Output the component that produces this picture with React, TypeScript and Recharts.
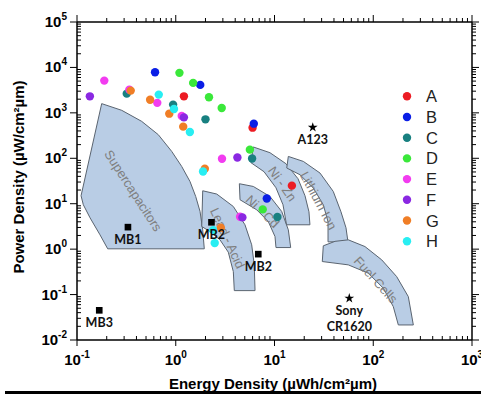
import React from 'react'
import { ScatterChart, Scatter, XAxis, YAxis, Symbols } from 'recharts'

// scatter series, energy density (x) vs power density (y)
const categories = ['A', 'B', 'C', 'D', 'E', 'F', 'G', 'H']
const colors = ['#ec1c24', '#0a1ee6', '#188080', '#3ae83a', '#f23cf0', '#8a28e2', '#f07e26', '#28eef2']

const seriesA = [{ x: 1.21, y: 2310 }, { x: 6.0, y: 472 }, { x: 15.0, y: 25 }]
const seriesB = [{ x: 0.617, y: 7820 }, { x: 1.77, y: 4130 }, { x: 6.17, y: 578 }, { x: 8.36, y: 13.0 }]
const seriesC = [{ x: 0.319, y: 2650 }, { x: 0.94, y: 1520 }, { x: 2.0, y: 720 }, { x: 5.93, y: 99 }, { x: 10.7, y: 5.1 }]
const seriesD = [{ x: 1.09, y: 7590 }, { x: 1.5, y: 4570 }, { x: 2.17, y: 2200 }, { x: 2.92, y: 1280 }, { x: 5.63, y: 155 }, { x: 7.6, y: 7.5 }]
const seriesE = [{ x: 0.189, y: 5130 }, { x: 0.339, y: 3250 }, { x: 0.65, y: 1660 }, { x: 1.15, y: 855 }, { x: 2.94, y: 98 }, { x: 4.48, y: 5.15 }]
const seriesF = [{ x: 0.135, y: 2310 }, { x: 1.21, y: 796 }, { x: 4.21, y: 104 }, { x: 4.73, y: 5.0 }]
const seriesG = [{ x: 0.35, y: 3090 }, { x: 0.55, y: 1950 }, { x: 0.86, y: 960 }, { x: 1.19, y: 497 }, { x: 1.97, y: 59 }, { x: 2.86, y: 2.95 }]
const seriesH = [{ x: 0.673, y: 2520 }, { x: 0.96, y: 1220 }, { x: 1.39, y: 379 }, { x: 1.89, y: 51 }, { x: 2.39, y: 2.62 }, { x: 2.48, y: 1.36 }]
const seriesList = [seriesA, seriesB, seriesC, seriesD, seriesE, seriesF, seriesG, seriesH]

// black markers
const squares = [
    { label: ['MB1'], x: 0.328, y: 3.05 },
    { label: ['MB2'], x: 2.3, y: 3.9 },
    { label: ['MB2'], x: 6.85, y: 0.776 },
    { label: ['MB3'], x: 0.168, y: 0.045 },
]
const stars = [
    { label: ['A123'], x: 24.4, y: 480 },
    { label: ['Sony', 'CR1620'], x: 57.2, y: 0.083 },
]

// technology regions, outlines as [log10 energy, log10 power]
const supercapacitors = [[-0.75, 3.203], [-0.547, 3.056], [-0.345, 2.813], [-0.177, 2.52], [-0.041, 2.152], [0.06, 1.821], [0.144, 1.49], [0.202, 1.16], [0.246, 0.829], [0.273, 0.425], [0.289, 0.007], [-0.689, 0.007], [-0.767, 0.315], [-0.868, 0.69], [-0.936, 0.977], [-0.959, 1.175], [-0.75, 3.203]]
const leadAcid = [[0.273, 1.285], [0.415, 1.213], [0.583, 0.939], [0.701, 0.536], [0.769, 0.095], [0.795, -0.346], [0.803, -0.913], [0.593, -0.913], [0.583, -0.494], [0.532, -0.066], [0.448, 0.205], [0.347, 0.388], [0.263, 0.498], [0.273, 1.285]]
const niCd = [[0.644, 1.44], [0.785, 1.38], [0.954, 1.16], [1.073, 0.829], [1.14, 0.425], [1.164, 0.035], [1.015, 0.035], [1.005, 0.278], [0.937, 0.608], [0.82, 0.866], [0.651, 1.087], [0.644, 1.44]]
const niZn = [[0.785, 2.249], [0.954, 2.123], [1.116, 1.881], [1.238, 1.55], [1.309, 1.175], [1.349, 0.822], [1.359, 0.536], [1.122, 0.536], [1.086, 0.977], [1.015, 1.351], [0.894, 1.704], [0.762, 1.903], [0.785, 2.249]]
const lithiumIon = [[1.14, 2.041], [1.292, 1.931], [1.461, 1.675], [1.595, 1.27], [1.673, 0.822], [1.724, 0.47], [1.744, 0.161], [1.542, 0.161], [1.542, 0.602], [1.494, 0.977], [1.393, 1.345], [1.258, 1.638], [1.124, 1.786], [1.14, 2.041]]
const fuelCells = [[1.494, 0.073], [1.613, 0.172], [1.747, 0.205], [1.916, 0.057], [2.086, -0.236], [2.237, -0.604], [2.355, -1.045], [2.406, -1.669], [2.254, -1.669], [2.203, -1.265], [2.102, -0.86], [1.95, -0.529], [1.747, -0.346], [1.484, -0.273], [1.494, 0.073]]
const regions = [supercapacitors, leadAcid, niCd, niZn, lithiumIon, fuelCells]

const regionLabels = [
    { text: 'Supercapacitors', x: 0.371, y: 19.3 },
    { text: 'Lead - Acid', x: 3.34, y: 1.75 },
    { text: 'Ni - Cd', x: 7.55, y: 6.75 },
    { text: 'Ni - Zn', x: 12.05, y: 27.2 },
    { text: 'Lithium Ion', x: 27.8, y: 11.7 },
    { text: 'Fuel Cells', x: 106, y: 0.21 },
]
const labelAngle: Record<string, number> = {
    'Supercapacitors': 57, 'Lead - Acid': 65, 'Ni - Cd': 44, 'Ni - Zn': 55, 'Lithium Ion': 62, 'Fuel Cells': 48,
}

const xDecades = [0.1, 1, 10, 100]
const yDecades = [0.01, 0.1, 1, 10, 100, 1000, 10000]
const minorSteps = [1, 2, 3, 4, 5, 6, 7, 8, 9]
const xTicks = [...xDecades.flatMap((d) => minorSteps.map((k) => k * d)), 1000]
const yTicks = [...yDecades.flatMap((d) => minorSteps.map((k) => k * d)), 100000]

const isDecade = (v: number) => Math.abs(Math.log10(v) - Math.round(Math.log10(v))) < 1e-6
const tickFont = { fontFamily: '"Liberation Sans", Arial, sans-serif', fontWeight: 700, fontSize: 15, fill: '#000' }

function AxisTick(props: any) {
    const { x, y, payload, side } = props
    const v = payload.value
    const major = isDecade(v)
    const e = Math.round(Math.log10(v))
    if (side === 'bottom') {
        return (
            <g>
                <line x1={x} x2={x} y1={y} y2={major ? y + 6 : y - 4} stroke="#000" />
                {major && (
                    <text x={x} y={y + 25} textAnchor="middle" style={tickFont}>
                        10<tspan dy={-7} fontSize={10}>{e}</tspan>
                    </text>
                )}
            </g>
        )
    }
    if (side === 'left') {
        return (
            <g>
                <line x1={x} x2={major ? x - 7 : x + 4} y1={y} y2={y} stroke="#000" />
                {major && (
                    <text x={x - 10} y={y + 5} textAnchor="end" style={tickFont}>
                        10<tspan dy={-7} fontSize={10}>{e}</tspan>
                    </text>
                )}
            </g>
        )
    }
    if (side === 'top') {
        return <line x1={x} x2={x} y1={y} y2={y - (major ? 7 : 4)} stroke="#000" />
    }
    return <line x1={x} x2={x + (major ? 7 : 4)} y1={y} y2={y} stroke="#000" />
}

const axisLine = { stroke: '#000', strokeWidth: 1.5 }
const noShape = () => <g />

function RegionText(props: any) {
    const { cx, cy, payload } = props
    const a = labelAngle[payload.text] ?? 0
    return (
        <text x={cx} y={cy} transform={`rotate(${a} ${cx} ${cy})`} textAnchor="middle" dominantBaseline="central"
            style={{ fontFamily: '"Liberation Sans", Arial, sans-serif', fontSize: 13, fill: '#7f7f7f' }}>
            {payload.text}
        </text>
    )
}

function Marker(props: any) {
    const { cx, cy, payload, kind } = props
    return (
        <g>
            <Symbols cx={cx} cy={cy} type={kind} size={kind === 'star' ? 30 : 44} fill="#000" />
            {payload.label.map((t: string, i: number) => (
                <text key={i} x={cx} y={cy + 16.5 + i * 16} textAnchor="middle"
                    style={{ fontFamily: 'Lato, "Open Sans", sans-serif', fontWeight: 700, fontSize: 12.5, fill: '#111' }}>
                    {t}
                </text>
            ))}
        </g>
    )
}

export default function App() {
    return (
        <div style={{ position: 'absolute', left: 0, top: 0, width: 481, height: 394, background: '#fff' }}>
            <ScatterChart width={481} height={394} margin={{ top: 14, right: 1, bottom: 14, left: 17 }}>
                <XAxis type="number" dataKey="x" scale="log" domain={[0.1, 1000]} allowDataOverflow ticks={xTicks}
                    interval={0} height={40} tickSize={0} tickMargin={0} tickLine={false} axisLine={axisLine}
                    tick={(p: any) => <AxisTick {...p} side="bottom" />} />
                <XAxis xAxisId="top" orientation="top" type="number" dataKey="x" scale="log" domain={[0.1, 1000]}
                    allowDataOverflow ticks={xTicks} interval={0} height={8} tickSize={0} tickMargin={0}
                    tickLine={false} axisLine={axisLine} tick={(p: any) => <AxisTick {...p} side="top" />} />
                <YAxis type="number" dataKey="y" scale="log" domain={[0.01, 100000]} allowDataOverflow ticks={yTicks}
                    interval={0} width={60} tickSize={0} tickMargin={0} tickLine={false} axisLine={axisLine}
                    tick={(p: any) => <AxisTick {...p} side="left" />} />
                <YAxis yAxisId="right" orientation="right" type="number" dataKey="y" scale="log"
                    domain={[0.01, 100000]} allowDataOverflow ticks={yTicks} interval={0} width={8} tickSize={0}
                    tickMargin={0} tickLine={false} axisLine={axisLine}
                    tick={(p: any) => <AxisTick {...p} side="right" />} />

                {/* Shaded regions */}
                {regions.map((poly, i) => (
                    <Scatter key={'region' + i} data={poly.map(([lx, ly]) => ({ x: 10 ** lx, y: 10 ** ly }))}
                        line={{ fill: '#b9cde5', stroke: '#5a6470', strokeWidth: 1 }} lineType="joint"
                        lineJointType="linear" shape={noShape} legendType="none" isAnimationActive={false} />
                ))}
                <Scatter data={regionLabels} shape={(p: any) => <RegionText {...p} />} legendType="none" isAnimationActive={false} />

                {/* Data points A-H */}
                {seriesList.map((s, i) => (
                    <Scatter key={categories[i]} name={categories[i]} data={s} fill={colors[i]}
                        shape={(p: any) => <circle cx={p.cx} cy={p.cy} r={4.2} fill={colors[i]} />}
                        isAnimationActive={false} />
                ))}

                <Scatter data={squares} shape={(p: any) => <Marker {...p} kind="square" />} legendType="none" isAnimationActive={false} />
                <Scatter data={stars} shape={(p: any) => <Marker {...p} kind="star" />} legendType="none" isAnimationActive={false} />
            </ScatterChart>

            <svg width={481} height={394} style={{ position: 'absolute', left: 0, top: 0, pointerEvents: 'none' }}>
                {/* Legend */}
                {categories.map((c, i) => (
                    <g key={c}>
                        <circle cx={407} cy={96.3 + i * 20.7} r={4.2} fill={colors[i]} />
                        <text x={426} y={102.3 + i * 20.7}
                            style={{ fontFamily: '"Liberation Sans", Arial, sans-serif', fontSize: 16.5, fill: '#222' }}>
                            {c}
                        </text>
                    </g>
                ))}
                {/* Axis titles */}
                <text transform="translate(24,177) rotate(-90)" textAnchor="middle"
                    style={{ fontFamily: '"Liberation Sans", Arial, sans-serif', fontWeight: 700, fontSize: 15 }}>
                    Power Density (µW/cm²µm)
                </text>
                <text x={273} y={389} textAnchor="middle"
                    style={{ fontFamily: '"Liberation Sans", Arial, sans-serif', fontWeight: 700, fontSize: 15 }}>
                    Energy Density (µWh/cm²µm)
                </text>
                <rect x={5} y={391} width={476} height={3} fill="#000" />
            </svg>
        </div>
    )
}
